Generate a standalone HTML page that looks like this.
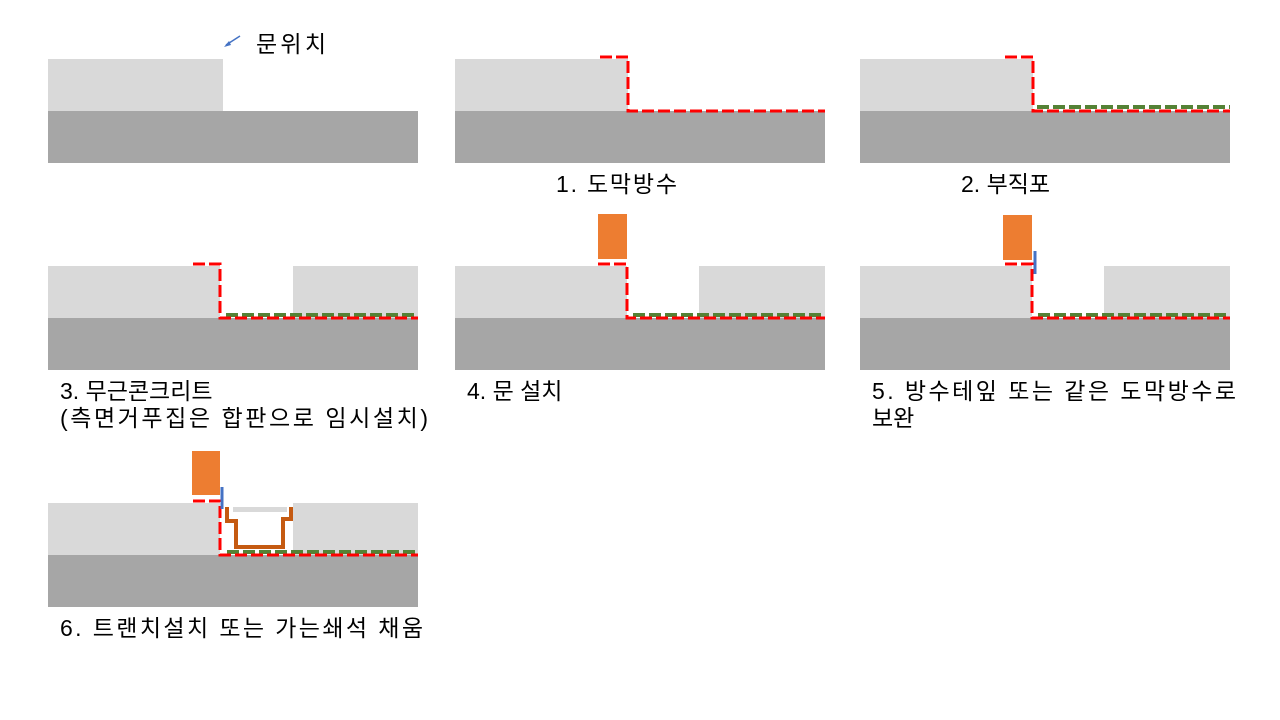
<!DOCTYPE html>
<html><head><meta charset="utf-8"><style>
body{margin:0;background:#fff;}
svg{display:block}
text{font-family:"Liberation Sans","Noto Sans CJK KR",sans-serif;font-size:23px;fill:#000}
</style></head><body>
<svg width="1280" height="720" viewBox="0 0 1280 720" xmlns="http://www.w3.org/2000/svg">
<defs>
<style>
.l{fill:#d9d9d9}.d{fill:#a6a6a6}.o{fill:#ed7d31}
.r{stroke:#ff0000;stroke-width:3;stroke-dasharray:12 4;fill:none}
.g{stroke:#548235;stroke-width:4;stroke-dasharray:12 4;fill:none}
.b{stroke:#4472c4;stroke-width:3}
</style>
</defs>
<rect class="l" x="48" y="59" width="175" height="52"/>
<rect class="d" x="48" y="111" width="370" height="52"/>
<line x1="240" y1="36" x2="226" y2="45" stroke="#4472c4" stroke-width="1.5"/>
<polygon points="224,47 229,41 231,45" fill="#4472c4"/>
<text x="256" y="52" textLength="70" lengthAdjust="spacing">문위치</text>
<rect class="l" x="455" y="59" width="173" height="52"/>
<rect class="d" x="455" y="111" width="370" height="52"/>
<path class="r" d="M600 57 H628 V111 H825"/>
<text x="556" y="192" textLength="121" lengthAdjust="spacing">1. 도막방수</text>
<rect class="l" x="860" y="59" width="173" height="52"/>
<rect class="d" x="860" y="111" width="370" height="52"/>
<path class="g" d="M1037 107 H1230"/>
<path class="r" d="M1005 57 H1033 V111 H1230"/>
<text x="961" y="192">2. 부직포</text>
<rect class="l" x="48" y="266" width="172" height="52"/>
<rect class="l" x="293" y="266" width="125" height="52"/>
<rect class="d" x="48" y="318" width="370" height="52"/>
<path class="g" d="M226 315 H418"/>
<path class="r" d="M193 264 H220 V318 H418"/>
<text x="60" y="399">3. 무근콘크리트</text>
<text x="60" y="426" textLength="368" lengthAdjust="spacing">(측면거푸집은 합판으로 임시설치)</text>
<rect class="l" x="455" y="266" width="172" height="52"/>
<rect class="l" x="699" y="266" width="126" height="52"/>
<rect class="d" x="455" y="318" width="370" height="52"/>
<rect class="o" x="598" y="214" width="29" height="45"/>
<path class="g" d="M633 315 H825"/>
<path class="r" d="M598 264 H627 V318 H825"/>
<text x="467" y="399">4. 문 설치</text>
<rect class="l" x="860" y="266" width="172" height="52"/>
<rect class="l" x="1104" y="266" width="126" height="52"/>
<rect class="d" x="860" y="318" width="370" height="52"/>
<rect class="o" x="1003" y="215" width="29" height="45"/>
<path class="g" d="M1038 315 H1230"/>
<path class="r" d="M1005 264 H1032 V318 H1230"/>
<line class="b" x1="1035" y1="251" x2="1035" y2="274"/>
<text x="872" y="399" textLength="364" lengthAdjust="spacing">5. 방수테잎 또는 같은 도막방수로</text>
<text x="872" y="426">보완</text>
<rect class="l" x="48" y="503" width="172" height="52"/>
<rect class="l" x="293" y="503" width="125" height="52"/>
<rect class="d" x="48" y="555" width="370" height="52"/>
<rect class="o" x="192" y="451" width="28" height="44"/>
<rect x="233" y="507" width="54" height="5" fill="#d9d9d9"/>
<path d="M227 507 V521 H236 V547 H283 V519 H291 V507" stroke="#c55a11" stroke-width="4" fill="none"/>
<path class="g" d="M227 552 H418"/>
<path class="r" d="M193 501 H220 V555 H418"/>
<line class="b" x1="222" y1="487" x2="222" y2="509"/>
<text x="60" y="636" textLength="363" lengthAdjust="spacing">6. 트랜치설치 또는 가는쇄석 채움</text>
</svg>
</body></html>
